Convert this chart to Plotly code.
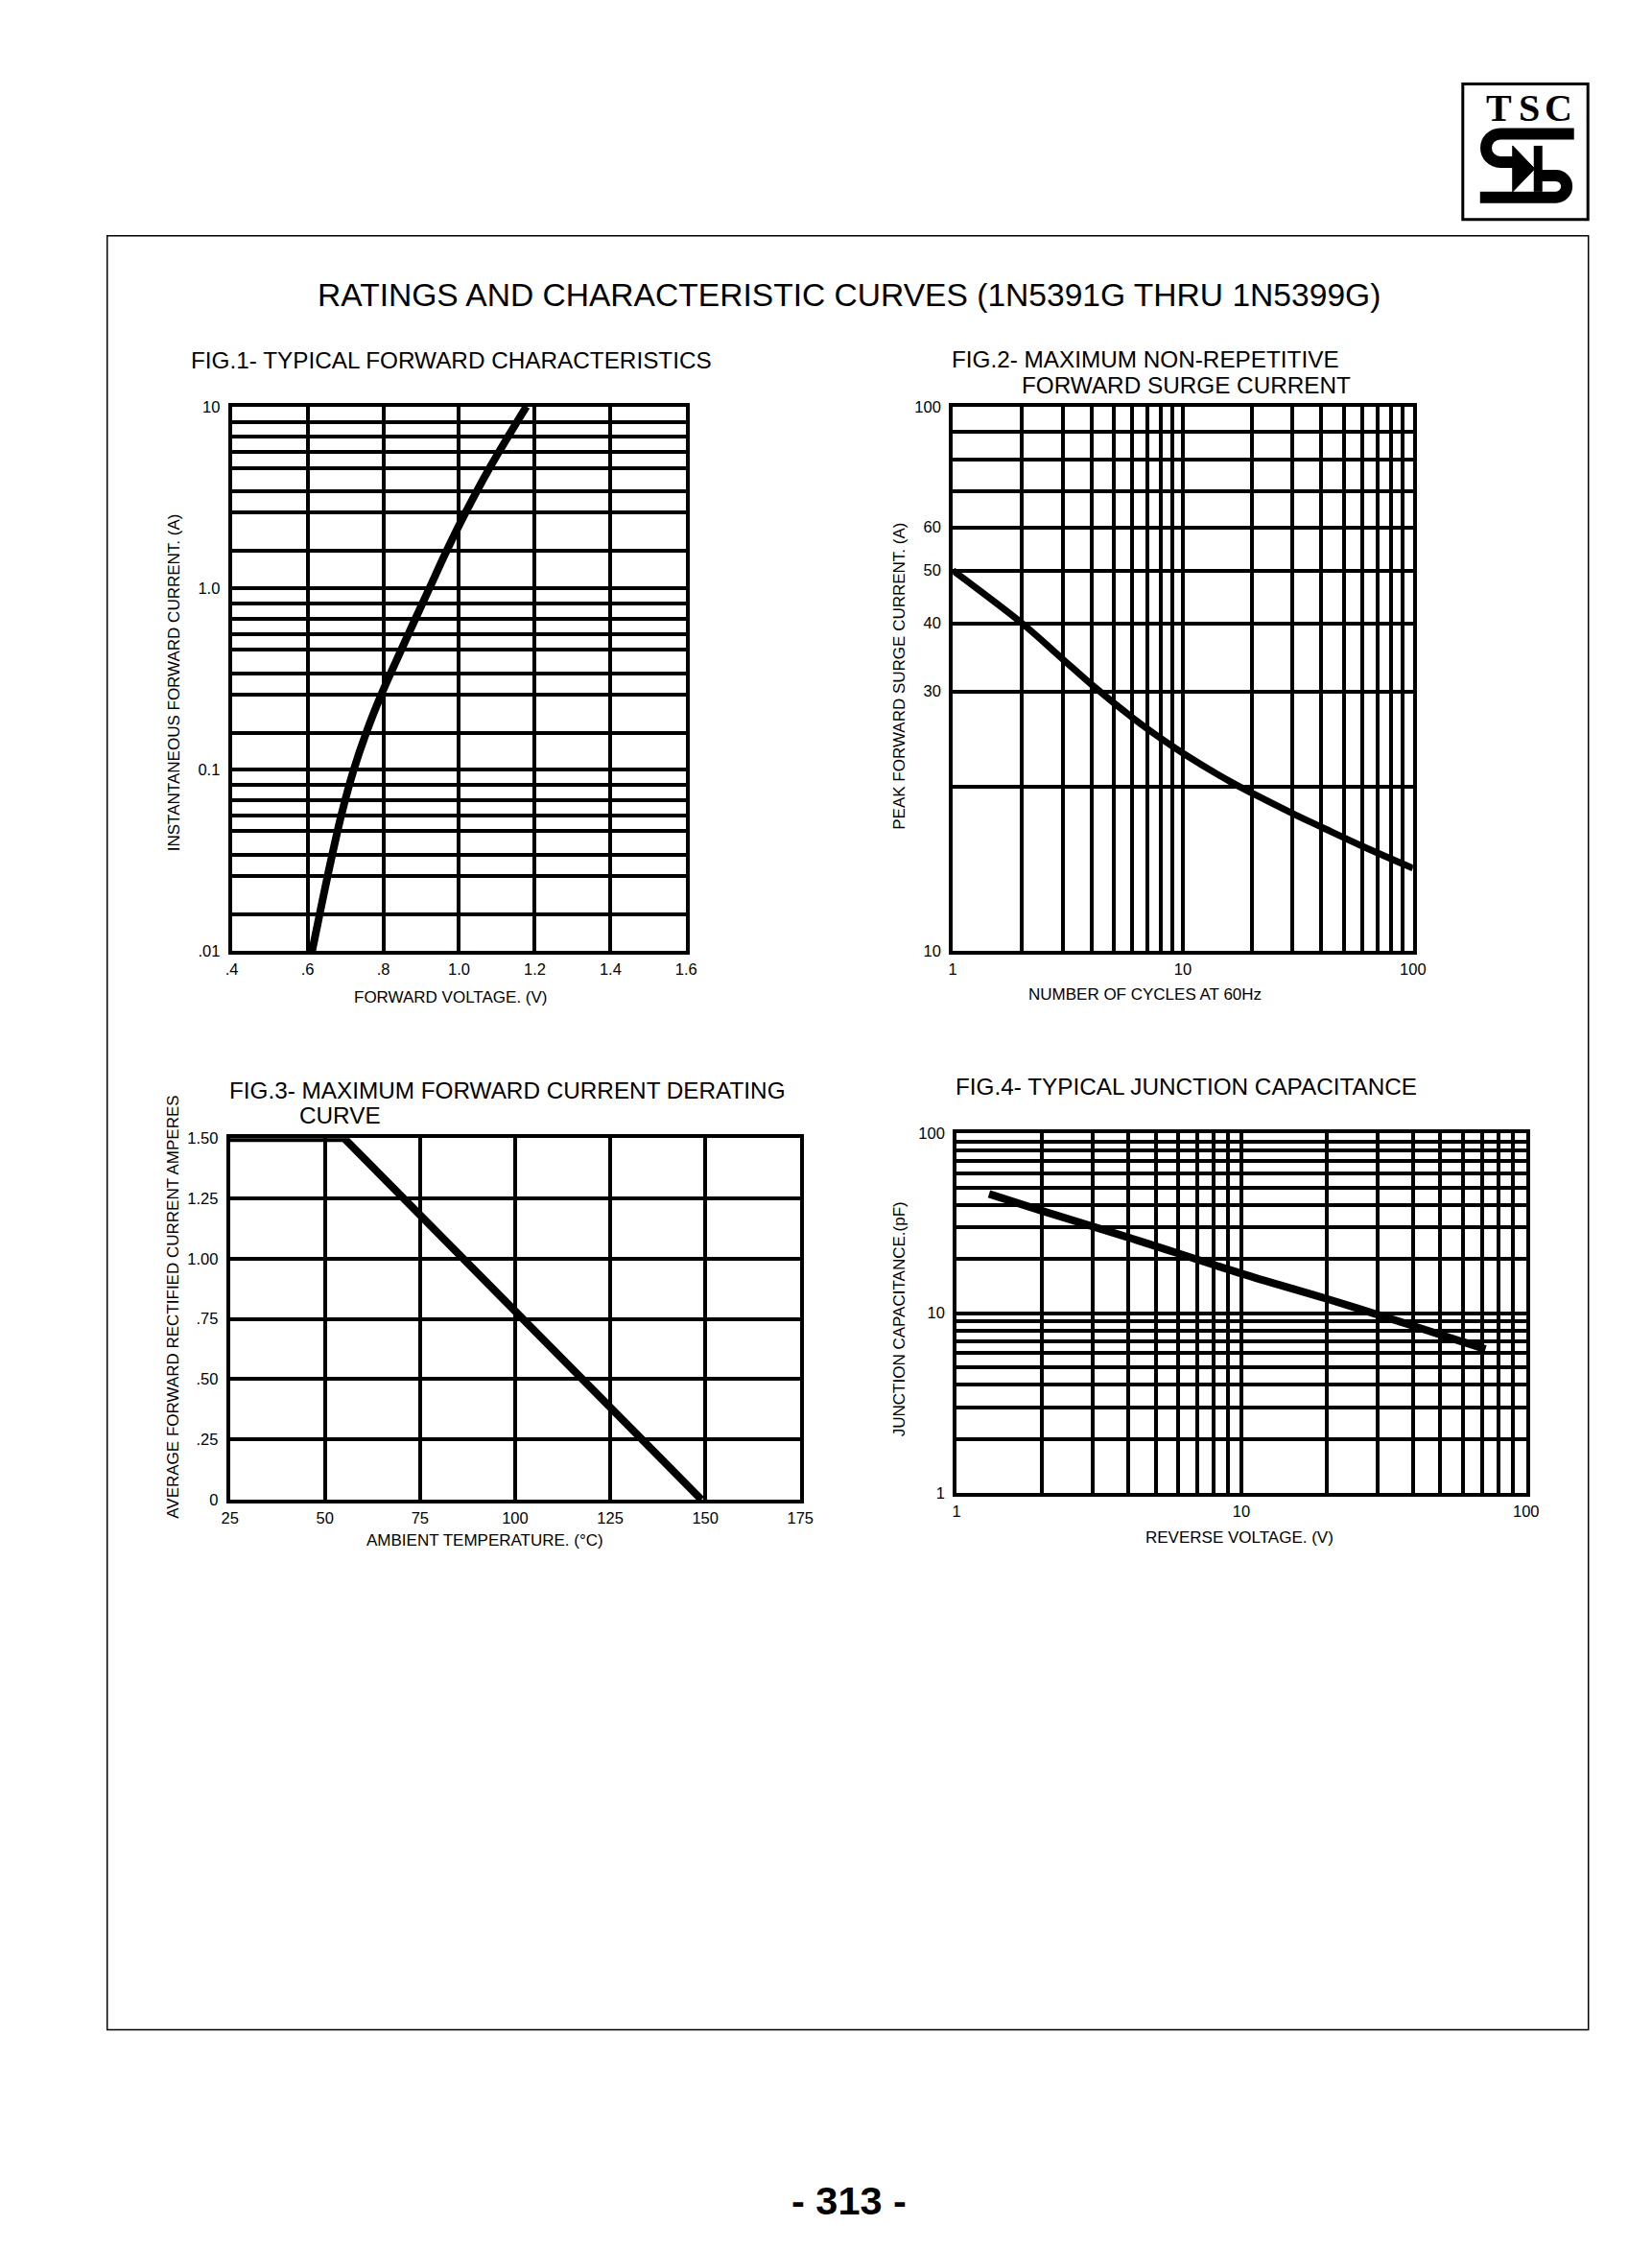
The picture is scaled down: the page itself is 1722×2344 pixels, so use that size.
import plotly.graph_objects as go

W, H = 1722, 2344
# measured mapping between figure pixels and the photographed page
AX, BX = 16.2, 0.9873
AY, BY = 17.0, 0.993
FONT = "Liberation Sans, Arial, sans-serif"

# ---------------- data ----------------
# Fig.1 typical forward characteristics
fig1_voltage = [0.612, 0.632, 0.653, 0.689, 0.722, 0.755, 0.795, 0.848, 0.922, 0.967, 1.017, 1.081, 1.129, 1.178]
fig1_current = [0.01, 0.016, 0.026, 0.056, 0.1, 0.16, 0.26, 0.46, 1.0, 1.6, 2.6, 4.6, 6.8, 10.0]
fig1_x_ticks = [0.4, 0.6, 0.8, 1.0, 1.2, 1.4, 1.6]
fig1_x_labels = [".4", ".6", ".8", "1.0", "1.2", "1.4", "1.6"]
fig1_y_decades = [0.01, 0.1, 1.0, 10.0]
fig1_y_labels = [".01", "0.1", "1.0", "10"]
fig1_y_minor = [1.6, 2.6, 3.4, 4.6, 5.6, 6.8, 8.2]

# Fig.2 maximum non-repetitive forward surge current
fig2_cycles = [1, 2, 3, 4, 6, 8, 10, 16, 20, 30, 40, 60, 100]
fig2_current = [50, 40, 34.4, 30.9, 26.9, 24.6, 23.1, 20.5, 19.5, 17.9, 16.9, 15.6, 14.2]
fig2_x_grid = [1, 2, 3, 4, 5, 6, 7, 8, 9, 10, 20, 30, 40, 50, 60, 70, 80, 90, 100]
fig2_x_labels = {1: "1", 10: "10", 100: "100"}
fig2_y_grid = [10, 20, 30, 40, 50, 60, 70, 80, 90, 100]
fig2_y_labels = {10: "10", 30: "30", 40: "40", 50: "50", 60: "60", 100: "100"}

# Fig.3 maximum forward current derating curve
fig3_temp = [25, 55, 149]
fig3_current = [1.5, 1.5, 0.0]
fig3_x_ticks = [25, 50, 75, 100, 125, 150, 175]
fig3_x_labels = ["25", "50", "75", "100", "125", "150", "175"]
fig3_y_ticks = [0, 0.25, 0.5, 0.75, 1.0, 1.25, 1.5]
fig3_y_labels = ["0", ".25", ".50", ".75", "1.00", "1.25", "1.50"]

# Fig.4 typical junction capacitance
fig4_voltage = [1.3, 2, 4, 10, 20, 40, 72]
fig4_capacitance = [46, 37, 26.4, 16.6, 12.0, 8.5, 6.3]
fig4_x_grid = [1, 2, 3, 4, 5, 6, 7, 8, 9, 10, 20, 30, 40, 50, 60, 70, 80, 90, 100]
fig4_x_labels = {1: "1", 10: "10", 100: "100"}
fig4_y_grid = [1, 2, 3, 4, 5, 6, 7, 8, 9, 10, 20, 30, 40, 50, 60, 70, 80, 90, 100]
fig4_y_labels = {1: "1", 10: "10", 100: "100"}


def px(x):
    return ((x - AX) / BX) / W


def py(y):
    return 1 - ((y - AY) / BY) / H


def P(x, y):
    return f"{px(x):.6f},{py(y):.6f}"


def axis(domain, anchor, tickvals, ticktext, ttype="linear", rng=None, side_y=False):
    return dict(domain=domain, anchor=anchor, type=ttype, range=rng,
                tickvals=tickvals, ticktext=ticktext,
                showline=True, mirror=True, linecolor="black", linewidth=4,
                showgrid=True, gridcolor="black", gridwidth=3.5, zeroline=False,
                ticks="outside", tickcolor="rgba(0,0,0,0)", ticklen=(5 if side_y else 1),
                tickfont=dict(family=FONT, size=16.5, color="black"), fixedrange=True)


fig = go.Figure()

f1_yvals, f1_ytext = [], []
for i, dec in enumerate(fig1_y_decades):
    f1_yvals.append(dec)
    f1_ytext.append(fig1_y_labels[i])
    if i < len(fig1_y_decades) - 1:
        for m in fig1_y_minor:
            f1_yvals.append(dec * m)
            f1_ytext.append("")

fig2_xt = [fig2_x_labels.get(v, "") for v in fig2_x_grid]
fig2_yt = [fig2_y_labels.get(v, "") for v in fig2_y_grid]
fig4_xt = [fig4_x_labels.get(v, "") for v in fig4_x_grid]
fig4_yt = [fig4_y_labels.get(v, "") for v in fig4_y_grid]

fig.add_trace(go.Scatter(x=fig1_voltage, y=fig1_current, mode="lines",
                         line=dict(color="black", width=8, shape="spline", smoothing=1.0),
                         xaxis="x", yaxis="y", showlegend=False, hoverinfo="skip"))
fig.add_trace(go.Scatter(x=fig2_cycles, y=fig2_current, mode="lines",
                         line=dict(color="black", width=7, shape="spline", smoothing=1.0),
                         xaxis="x2", yaxis="y2", showlegend=False, hoverinfo="skip"))
fig.add_trace(go.Scatter(x=fig3_temp, y=fig3_current, mode="lines",
                         line=dict(color="black", width=8),
                         xaxis="x3", yaxis="y3", showlegend=False, hoverinfo="skip"))
fig.add_trace(go.Scatter(x=fig4_voltage, y=fig4_capacitance, mode="lines",
                         line=dict(color="black", width=8, shape="spline", smoothing=1.0),
                         xaxis="x4", yaxis="y4", showlegend=False, hoverinfo="skip"))

fig.update_layout(
    width=W, height=H, margin=dict(l=0, r=0, t=0, b=0),
    paper_bgcolor="white", plot_bgcolor="white", showlegend=False,
    xaxis=axis([px(241), px(715)], "y", fig1_x_ticks, fig1_x_labels, rng=[0.4, 1.6]),
    yaxis=axis([py(992), py(424)], "x", f1_yvals, f1_ytext, "log", [-2, 1], side_y=True),
    xaxis2=axis([px(993), px(1473)], "y2", fig2_x_grid, fig2_xt, "log", [0, 2]),
    yaxis2=axis([py(992), py(424)], "x2", fig2_y_grid, fig2_yt, "log", [1, 2], side_y=True),
    xaxis3=axis([px(239), px(834)], "y3", fig3_x_ticks, fig3_x_labels, rng=[25, 175]),
    yaxis3=axis([py(1564), py(1187)], "x3", fig3_y_ticks, fig3_y_labels, rng=[0, 1.5], side_y=True),
    xaxis4=axis([px(997), px(1591)], "y4", fig4_x_grid, fig4_xt, "log", [0, 2]),
    yaxis4=axis([py(1557), py(1182)], "x4", fig4_y_grid, fig4_yt, "log", [0, 2], side_y=True),
)

ann = []


def text(t, x, y, size=17, xanchor="center", yanchor="middle", angle=0, bold=False, family=FONT):
    if bold:
        t = f"<b>{t}</b>"
    ann.append(dict(text=t, x=px(x), y=py(y), xref="paper", yref="paper",
                    xanchor=xanchor, yanchor=yanchor, textangle=angle, showarrow=False,
                    font=dict(family=family, size=size, color="black")))


TS = 24.3
text("RATINGS AND CHARACTERISTIC CURVES (1N5391G THRU 1N5399G)", 885, 308, size=33.6)
text("FIG.1- TYPICAL FORWARD CHARACTERISTICS", 196, 376, size=TS, xanchor="left")
text("FIG.2- MAXIMUM NON-REPETITIVE", 990, 375, size=TS, xanchor="left")
text("FORWARD SURGE CURRENT", 1063, 402, size=TS, xanchor="left")
text("FIG.3- MAXIMUM FORWARD CURRENT DERATING", 236, 1137, size=TS, xanchor="left")
text("CURVE", 309, 1163, size=TS, xanchor="left")
text("FIG.4- TYPICAL JUNCTION CAPACITANCE", 994, 1133, size=TS, xanchor="left")

text("FORWARD VOLTAGE. (V)", 470, 1040)
text("INSTANTANEOUS FORWARD CURRENT. (A)", 181, 712, angle=-90)
text("NUMBER OF CYCLES AT 60Hz", 1193, 1037)
text("PEAK FORWARD SURGE CURRENT. (A)", 937, 705, angle=-90)
text("AMBIENT TEMPERATURE. (°C)", 505, 1607)
text("AVERAGE FORWARD RECTIFIED CURRENT AMPERES", 179, 1363, angle=-90)
text("REVERSE VOLTAGE. (V)", 1292, 1604)
text("JUNCTION CAPACITANCE.(pF)", 937, 1376, angle=-90)

text("- 313 -", 885, 2295, size=41.5, bold=True)

for ch, cx in (("T", 1563), ("S", 1594), ("C", 1625)):
    text(ch, cx, 113, size=40, bold=True, family="Liberation Serif, Times New Roman, serif")

fig.update_layout(annotations=ann)

shapes = []
shapes.append(dict(type="rect", xref="paper", yref="paper", x0=px(111), x1=px(1656),
                   y0=py(2117), y1=py(246), line=dict(color="black", width=1.5)))
shapes.append(dict(type="rect", xref="paper", yref="paper", x0=px(1525), x1=px(1655.5),
                   y0=py(229), y1=py(87.5), line=dict(color="black", width=3)))

k = 0.5523
cx1, ya, yb = 1564, 139.5, 169
r1 = (yb - ya) / 2
p_up = (f"M{P(1641, ya)} L{P(cx1, ya)} "
        f"C{P(cx1 - k * r1, ya)} {P(cx1 - r1, ya + r1 - k * r1)} {P(cx1 - r1, ya + r1)} "
        f"C{P(cx1 - r1, ya + r1 + k * r1)} {P(cx1 - k * r1, yb)} {P(cx1, yb)} L{P(1580, yb)}")
shapes.append(dict(type="path", xref="paper", yref="paper", path=p_up,
                   line=dict(color="black", width=12)))
cx2, yc, yd = 1622, 183, 205.8
r2 = (yd - yc) / 2
p_lo = (f"M{P(1604, yc)} L{P(cx2, yc)} "
        f"C{P(cx2 + k * r2, yc)} {P(cx2 + r2, yc + r2 - k * r2)} {P(cx2 + r2, yc + r2)} "
        f"C{P(cx2 + r2, yc + r2 + k * r2)} {P(cx2 + k * r2, yd)} {P(cx2, yd)} L{P(1543, yd)}")
shapes.append(dict(type="path", xref="paper", yref="paper", path=p_lo,
                   line=dict(color="black", width=12)))
shapes.append(dict(type="path", xref="paper", yref="paper",
                   path=f"M{P(1577, 152)} L{P(1600, 176)} L{P(1577, 200)} Z",
                   fillcolor="black", line=dict(color="black", width=1)))
shapes.append(dict(type="rect", xref="paper", yref="paper", x0=px(1599), x1=px(1608),
                   y0=py(200), y1=py(152), fillcolor="black", line=dict(width=0)))

fig.update_layout(shapes=shapes)

fig.write_html("out.html")
